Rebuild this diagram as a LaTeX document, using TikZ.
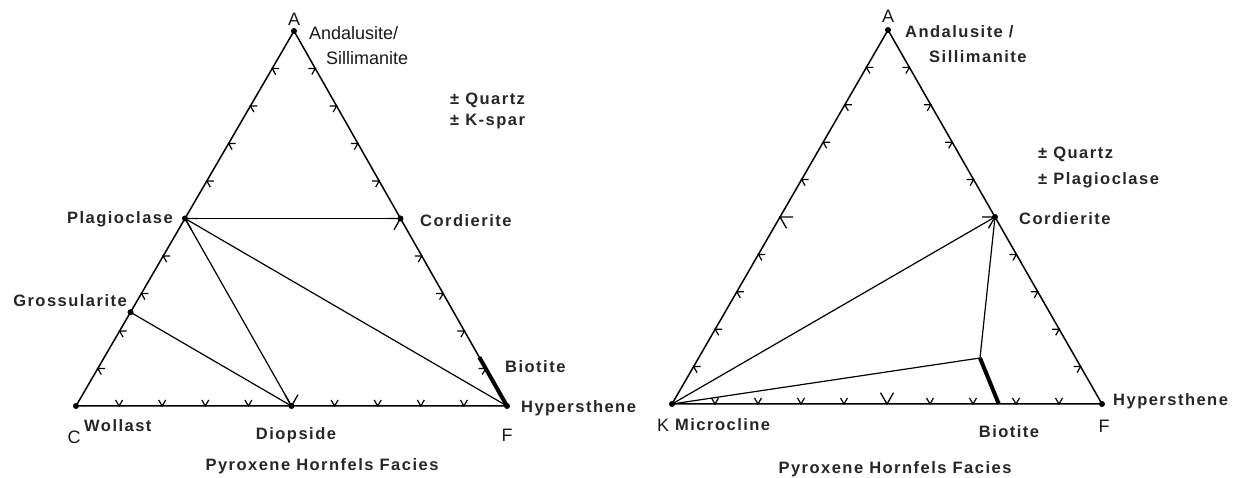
\documentclass[tikz,border=0pt]{standalone}
\usepackage{fontspec}
\setmainfont{Liberation Sans}
\usetikzlibrary{calc}

\begin{document}
\begin{tikzpicture}[x=1pt,y=-1pt,
  side/.style={line width=1.5pt},
  tie/.style={line width=1.2pt},
  biot/.style={line width=4pt},
  dot/.style={circle,fill,inner sep=0pt,minimum size=6pt},
  lbl/.style={font=\fontsize{16.5}{18}\selectfont\bfseries\addfontfeature{LetterSpace=9},text=black!85,inner sep=0pt},
  apex/.style={font=\fontsize{18}{20}\selectfont,text=black!90,inner sep=0pt},
  chev/.pic={\draw[line width=1.2pt] ({#1+30}:7) -- (0,0) -- ({#1-30}:7);},
  bigchev/.pic={\draw[line width=1.3pt] ({#1+30}:13) -- (0,0) -- ({#1-30}:13);}
]
\useasboundingbox (0,0) rectangle (1243,478);

% left: C-A-F diagram
\node[dot] (lA) at (294,31) {};
\node[dot] (lC) at (76,406) {};
\node[dot] (lF) at (507,406) {};
\draw[side] (lA.center) -- (lC.center) -- (lF.center) -- cycle;
\foreach \t in {0.1,0.2,0.3,0.4,0.6,0.7,0.8,0.9} {
  \path ($(lA)!\t!(lC)$) pic {chev=30};
  \path ($(lA)!\t!(lF)$) pic {chev=150};
  \path ($(lC)!\t!(lF)$) pic {chev=-90};
}
\path ($(lA)!0.5!(lC)$) pic {bigchev=30};
\path ($(lA)!0.5!(lF)$) pic {bigchev=150};
\path ($(lC)!0.5!(lF)$) pic {bigchev=-90};
\node[dot] (lPlag) at ($(lA)!0.5!(lC)$) {};
\node[dot] (lCord) at ($(lA)!0.5!(lF)$) {};
\node[dot] (lGros) at ($(lA)!0.75!(lC)$) {};
\node[dot] (lDiop) at ($(lC)!0.5!(lF)$) {};
\coordinate (lBio) at ($(lF)!0.13!(lA)$);
\draw[tie] (lPlag.center) -- (lCord.center);
\draw[tie] (lPlag.center) -- (lDiop.center);
\draw[tie] (lPlag.center) -- (lF.center);
\draw[tie] (lGros.center) -- (lDiop.center);
\draw[biot] (lF.center) -- (lBio);

\node[apex] at (294,19) {A};
\node[apex,anchor=west] at (309,33) {Andalusite/};
\node[apex,anchor=west] at (326,58) {Sillimanite};
\node[lbl,anchor=west] at (450,100) {± Quartz};
\node[lbl,anchor=west] at (450,122) {± K-spar};
\node[lbl,anchor=east] at (173,219) {Plagioclase};
\node[lbl,anchor=west] at (420,221) {Cordierite};
\node[lbl,anchor=east] at (127,301) {Grossularite};
\node[lbl,anchor=west] at (505,367) {Biotite};
\node[lbl,anchor=west] at (521,408) {Hypersthene};
\node[apex] at (74,437) {C};
\node[lbl,anchor=west] at (84,426) {Wollast};
\node[lbl] at (296,435) {Diopside};
\node[apex] at (507,435) {F};
\node[lbl] at (322,466) {Pyroxene Hornfels Facies};

% right: K-A-F diagram
\node[dot] (rA) at (888,30) {};
\node[dot] (rK) at (672,404) {};
\node[dot] (rF) at (1102,404) {};
\draw[side] (rA.center) -- (rK.center) -- (rF.center) -- cycle;
\foreach \t in {0.1,0.2,0.3,0.4,0.6,0.7,0.8,0.9} {
  \path ($(rA)!\t!(rK)$) pic {chev=30};
  \path ($(rA)!\t!(rF)$) pic {chev=150};
  \path ($(rK)!\t!(rF)$) pic {chev=-90};
}
\path ($(rA)!0.5!(rK)$) pic {bigchev=30};
\path ($(rA)!0.5!(rF)$) pic {bigchev=150};
\path ($(rK)!0.5!(rF)$) pic {bigchev=-90};
\node[dot] (rCord) at ($(rA)!0.5!(rF)$) {};
\coordinate (rJ) at (980,358);
\coordinate (rBb) at ($(rK)!0.76!(rF)$);
\draw[tie] (rK.center) -- (rCord.center);
\draw[tie] (rK.center) -- (rJ);
\draw[tie] (rJ) -- (rCord.center);
\draw[biot] (rJ) -- (rBb);

\node[apex] at (888,16) {A};
\node[lbl,anchor=west] at (905,32) {Andalusite /};
\node[lbl,anchor=west] at (929,57) {Sillimanite};
\node[lbl,anchor=west] at (1038,154) {± Quartz};
\node[lbl,anchor=west] at (1038,180) {± Plagioclase};
\node[lbl,anchor=west] at (1019,219) {Cordierite};
\node[lbl,anchor=west] at (1113,401) {Hypersthene};
\node[apex] at (663,425) {K};
\node[lbl,anchor=west] at (675,425) {Microcline};
\node[lbl] at (1009,432) {Biotite};
\node[apex] at (1104,426) {F};
\node[lbl] at (895,469) {Pyroxene Hornfels Facies};
\end{tikzpicture}
\end{document}
